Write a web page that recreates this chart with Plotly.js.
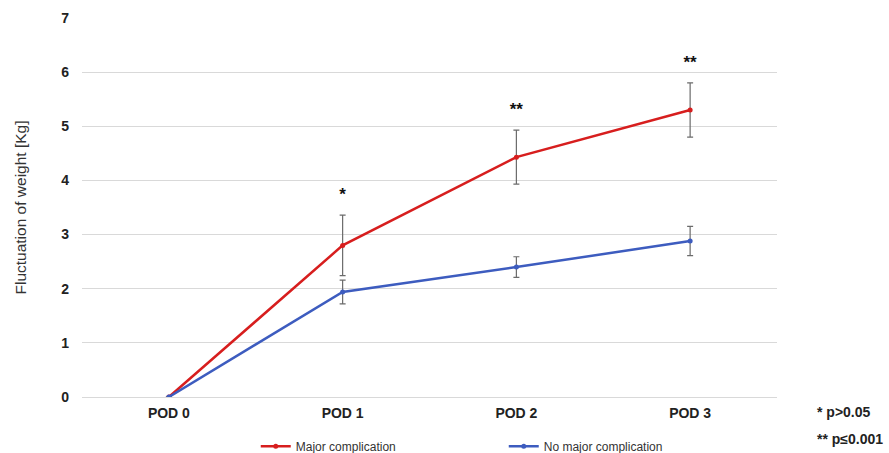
<!DOCTYPE html>
<html>
<head>
<meta charset="utf-8">
<script src="https://cdn.plot.ly/plotly-3.0.1.min.js"></script>
<style>html,body{margin:0;padding:0;background:#fff;}#chart{width:889px;height:453px;}</style>
</head>
<body>
<div id="chart"></div>
<script>
// Data
const categories = ["POD 0", "POD 1", "POD 2", "POD 3"];
const majorValues = [0, 2.80, 4.43, 5.30];
const majorErrors = [0, 0.56, 0.50, 0.50];
const noMajorValues = [0, 1.94, 2.40, 2.88];
const noMajorErrors = [0, 0.22, 0.19, 0.27];
const significance = ["", "*", "**", "**"];
const footnotes = ["* p>0.05", "** p≤0.001"];
const seriesNames = ["Major complication", "No major complication"];

const RED = "#d71e1e";
const BLUE = "#3d5cbf";
const ERR = "#6b6b6b";
const FONT = "Liberation Sans, Arial, sans-serif";

const starY = majorValues.map((v, i) => v + majorErrors[i] + 0.36);

const traces = [
  {
    x: categories, y: majorValues, name: seriesNames[0],
    type: "scatter", mode: "lines+markers",
    line: {color: RED, width: 2.5}, marker: {color: RED, size: 5},
    error_y: {type: "data", array: majorErrors, visible: true, color: ERR, thickness: 1.2, width: 3}
  },
  {
    x: categories, y: noMajorValues, name: seriesNames[1],
    type: "scatter", mode: "lines+markers",
    line: {color: BLUE, width: 2.5}, marker: {color: BLUE, size: 5},
    error_y: {type: "data", array: noMajorErrors, visible: true, color: ERR, thickness: 1.2, width: 3}
  },
  {
    x: categories, y: starY, text: significance,
    type: "scatter", mode: "text", showlegend: false, hoverinfo: "skip",
    textfont: {family: FONT, size: 17, color: "#111", weight: "bold"}
  }
];

const layout = {
  width: 889, height: 453,
  margin: {l: 82, r: 112, t: 18, b: 56, autoexpand: false},
  paper_bgcolor: "#fff", plot_bgcolor: "#fff",
  font: {family: FONT, color: "#222"},
  showlegend: true,
  legend: {
    orientation: "h", x: 0.25, xanchor: "left", y: -0.13, yanchor: "middle",
    font: {size: 12, color: "#333"}, entrywidth: 203, entrywidthmode: "pixels",
    itemwidth: 30, bgcolor: "rgba(0,0,0,0)"
  },
  xaxis: {
    type: "category", range: [-0.5, 3.5],
    showgrid: false, showline: false, zeroline: false, ticks: "",
    tickfont: {size: 14, color: "#222", family: FONT, weight: "bold"},
    ticklabelstandoff: 6
  },
  yaxis: {
    range: [0, 7], dtick: 1, tick0: 0,
    showgrid: true, gridcolor: "#d9d9d9", gridwidth: 1,
    zeroline: true, zerolinecolor: "#d9d9d9", zerolinewidth: 1,
    showline: false, ticks: "",
    tickfont: {size: 14, color: "#222", family: FONT, weight: "bold"},
    ticklabelstandoff: 12,
    title: {text: "Fluctuation of weight [Kg]", font: {size: 15.5, color: "#333"}, standoff: 30}
  },
  annotations: [
    {text: footnotes[0], xref: "paper", yref: "paper", x: 1.055, y: -0.04, xanchor: "left", yanchor: "middle",
     showarrow: false, font: {size: 14, color: "#222", weight: "bold"}},
    {text: footnotes[1], xref: "paper", yref: "paper", x: 1.055, y: -0.11, xanchor: "left", yanchor: "middle",
     showarrow: false, font: {size: 14, color: "#222", weight: "bold"}}
  ]
};

Plotly.newPlot("chart", traces, layout, {displayModeBar: false, staticPlot: true});
</script>
</body>
</html>
